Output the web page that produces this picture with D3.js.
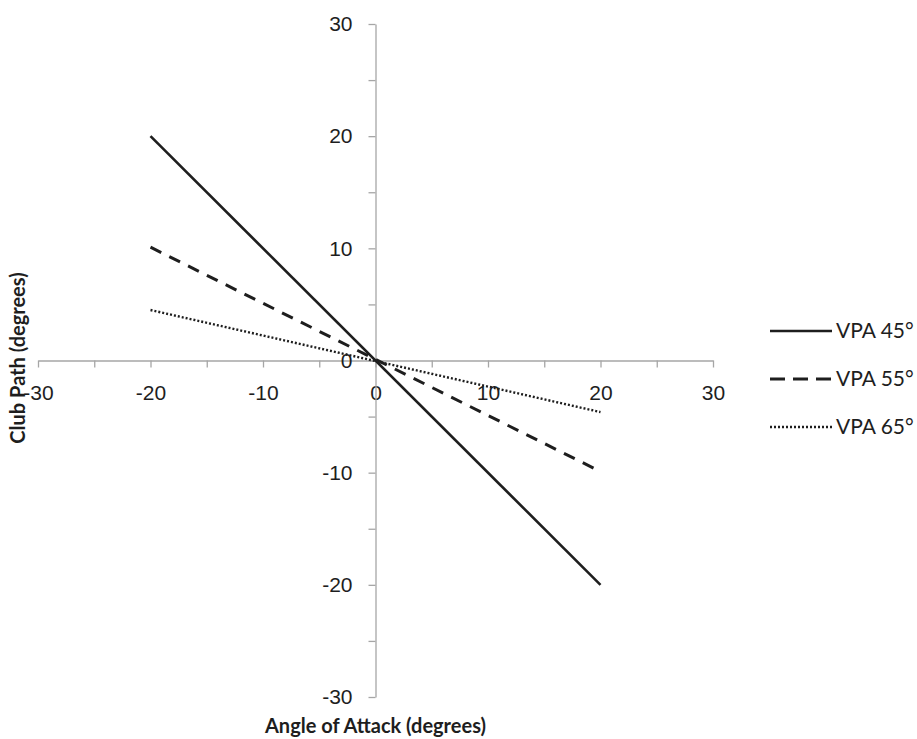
<!DOCTYPE html>
<html>
<head>
<meta charset="utf-8">
<script src="https://cdn.jsdelivr.net/npm/d3@7"></script>
<style>
  body { margin: 0; background: #fff; }
  svg { display: block; font-family: Lato, "Open Sans", sans-serif; }
  .axis path, .axis line { stroke: #a6a6a6; stroke-width: 1.3; }
  .axis text { font-size: 21px; fill: #1e1e1e; }
</style>
</head>
<body>
<div id="chart"></div>
<script>
// angle of attack (x) and club path (y) for each vertical plane angle
var aoa = [-20, 20];
var vpa45 = [20, -20];
var vpa55 = [10.1, -9.9];
var vpa65 = [4.5, -4.6];

var seriesNames = ["VPA 45°", "VPA 55°", "VPA 65°"];
var seriesValues = [vpa45, vpa55, vpa65];
var dashes = ["none", "12,9", "2,2"];
var widths = [2.6, 3, 2.4];

var tickVals = d3.range(-30, 31, 5);

var width = 917, height = 739;

var x = d3.scaleLinear().domain([-30, 30]).range([38, 713]);
var y = d3.scaleLinear().domain([-30, 30]).range([697, 24]);

var svg = d3.select("#chart").append("svg")
    .attr("width", width)
    .attr("height", height);

var fmt = function(d) { return d % 10 === 0 ? String(d) : ""; };

svg.append("g")
    .attr("class", "axis axis--x")
    .attr("transform", "translate(0," + y(0) + ")")
    .call(d3.axisBottom(x).tickValues(tickVals).tickSize(7).tickPadding(18).tickSizeOuter(0).tickFormat(fmt));

svg.append("g")
    .attr("class", "axis axis--y")
    .attr("transform", "translate(" + x(0) + ",0)")
    .call(d3.axisLeft(y).tickValues(tickVals).tickSize(7).tickPadding(16).tickSizeOuter(0).tickFormat(fmt));

var line = d3.line()
    .x(function(d) { return x(d[0]); })
    .y(function(d) { return y(d[1]); });

seriesValues.forEach(function(vals, i) {
    var pts = aoa.map(function(a, j) { return [a, vals[j]]; });
    svg.append("path")
        .datum(pts)
        .attr("fill", "none")
        .attr("stroke", "#1e1e1e")
        .attr("stroke-width", widths[i])
        .attr("stroke-dasharray", dashes[i])
        .attr("d", line);
});

// legend
var legend = svg.append("g").attr("class", "legend");
seriesNames.forEach(function(name, i) {
    var ly = 331 + i * 48;
    legend.append("line")
        .attr("x1", 770).attr("x2", 832)
        .attr("y1", ly).attr("y2", ly)
        .attr("stroke", "#1e1e1e")
        .attr("stroke-width", widths[i])
        .attr("stroke-dasharray", dashes[i] === "12,9" ? "15,8" : dashes[i]);
    legend.append("text")
        .attr("x", 836)
        .attr("y", ly)
        .attr("dy", "0.35em")
        .style("font-size", "21px")
        .style("fill", "#1e1e1e")
        .text(name);
});

// axis titles
svg.append("text")
    .attr("x", x(0))
    .attr("y", 733)
    .attr("text-anchor", "middle")
    .style("font-size", "20px")
    .style("font-weight", "bold")
    .style("fill", "#1e1e1e")
    .text("Angle of Attack (degrees)");

svg.append("text")
    .attr("transform", "translate(25,358) rotate(-90)")
    .attr("text-anchor", "middle")
    .style("font-size", "20px")
    .style("font-weight", "bold")
    .style("fill", "#1e1e1e")
    .text("Club Path (degrees)");
</script>
</body>
</html>
